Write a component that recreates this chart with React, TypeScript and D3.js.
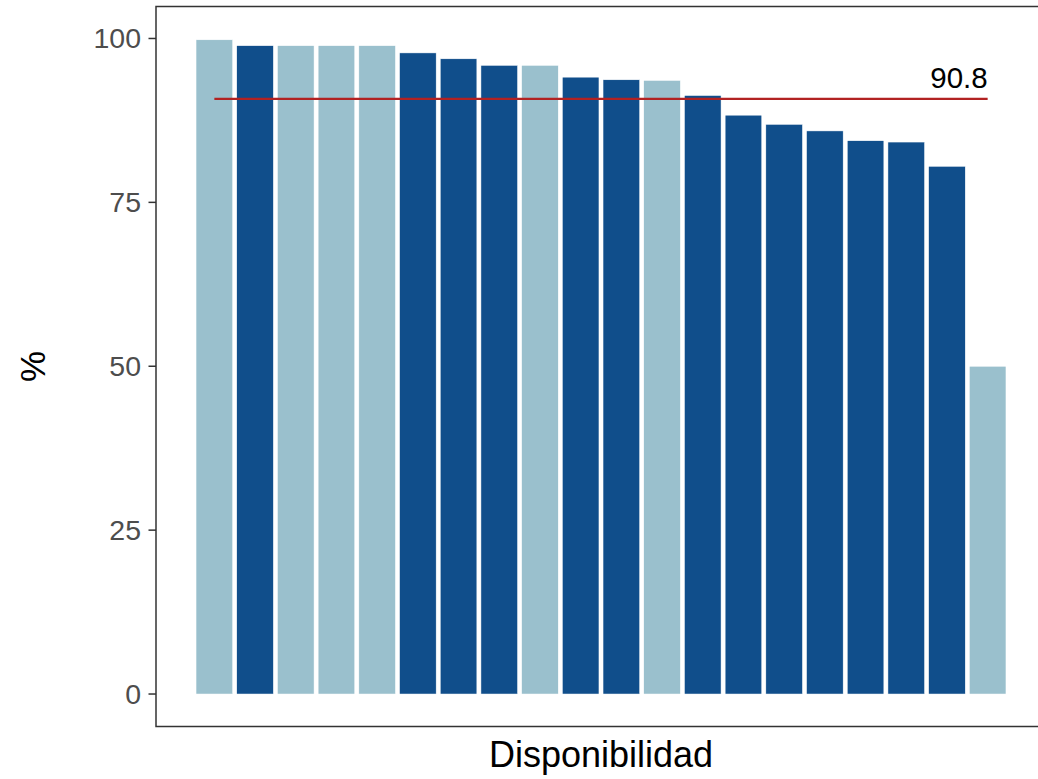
import React from "react";
import * as d3 from "d3";

const categories = ["C01","C02","C03","C04","C05","C06","C07","C08","C09","C10","C11","C12","C13","C14","C15","C16","C17","C18","C19","C20"];
const values = [99.8, 98.9, 98.9, 98.9, 98.9, 97.8, 96.9, 95.9, 95.9, 94.1, 93.7, 93.6, 91.3, 88.3, 86.9, 85.9, 84.4, 84.2, 80.5, 50.0];
const groups = ["light","dark","light","light","light","dark","dark","dark","light","dark","dark","light","dark","dark","dark","dark","dark","dark","dark","light"];
const yTicks = [0, 25, 50, 75, 100];
const meanValue = 90.8;
const meanLabel = "90.8";
const xTitle = "Disponibilidad";
const yTitle = "%";

const colors: Record<string, string> = { light: "#9AC0CD", dark: "#104E8B" };

export default function App() {
  const W = 1038, H = 779;
  const panelLeft = 156, panelTop = 6.5, panelBottom = 726.5;
  const font = "'Liberation Sans', Arial, sans-serif";

  const y = d3.scaleLinear().domain([-5, 105]).range([726.8, 5.7]);
  const x = d3.scaleBand<string>().domain(categories).range([194, 1008]).paddingInner(0.1).paddingOuter(0.05);

  const firstC = x(categories[0])! + x.bandwidth() / 2;
  const lastC = x(categories[categories.length - 1])! + x.bandwidth() / 2;

  return (
    <div style={{ position: "absolute", left: 0, top: 0 }}>
      <svg width={W} height={H} style={{ display: "block", background: "#fff" }}>
        {categories.map((c, i) => (
          <rect key={c} x={x(c)} y={y(values[i])} width={x.bandwidth()} height={y(0) - y(values[i])}
            fill={colors[groups[i]]} stroke="#ffffff" strokeWidth={0.5} />
        ))}
        <line x1={firstC} x2={lastC} y1={y(meanValue)} y2={y(meanValue)} stroke="#B22222" strokeWidth={2.3} />
        <text x={lastC} y={y(meanValue) - 11} textAnchor="end" fontFamily={font} fontSize={29.5} fill="#000">{meanLabel}</text>
        <rect x={panelLeft} y={panelTop} width={W + 20 - panelLeft} height={panelBottom - panelTop} fill="none" stroke="#333333" strokeWidth={1.5} />
        {yTicks.map(t => (
          <g key={t}>
            <line x1={148.5} x2={panelLeft} y1={y(t)} y2={y(t)} stroke="#333333" strokeWidth={1.5} />
            <text x={141} y={y(t)} dy="0.35em" textAnchor="end" fontFamily={font} fontSize={28.5} fill="#4D4D4D">{t}</text>
          </g>
        ))}
        <text transform={`translate(45, ${(panelTop + panelBottom) / 2}) rotate(-90)`} textAnchor="middle" fontFamily={font} fontSize={35} fill="#000">{yTitle}</text>
        <text x={601} y={767} textAnchor="middle" fontFamily={font} fontSize={36} fill="#000">{xTitle}</text>
      </svg>
    </div>
  );
}
